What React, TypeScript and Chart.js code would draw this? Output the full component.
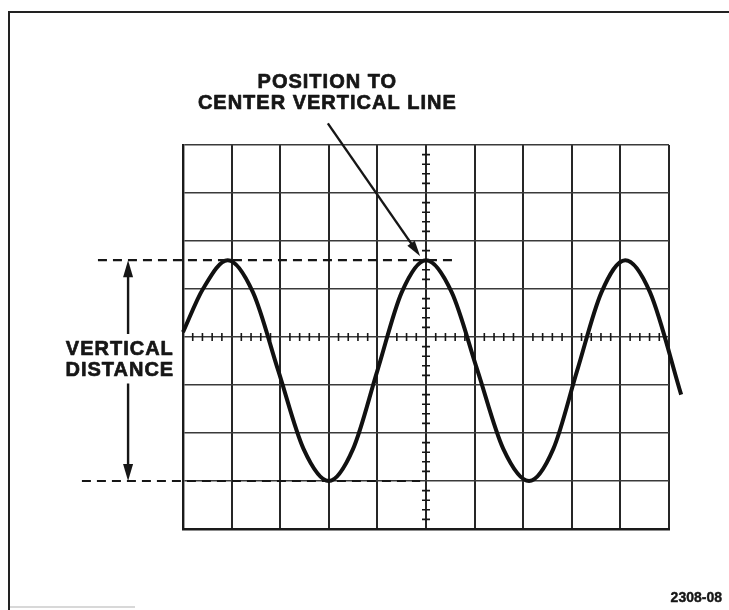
import React, { useEffect, useRef } from "react";
import { Chart, registerables } from "chart.js";

Chart.register(...registerables);

// Trace (x in horizontal divisions from the left edge, y in divisions from centre)
const TRACE_X = [0, 0.41, 0.92, 1.44, 1.96, 2.48, 3.0, 3.5, 4.0, 4.5, 5.0, 5.53, 6.06, 6.59, 7.12, 7.62, 8.11, 8.61, 9.1, 9.61, 10.25];
const TRACE_Y = [0.1, 1.0, 1.6, 0.93, -0.7, -2.33, -3.0, -2.33, -0.7, 0.93, 1.6, 0.93, -0.7, -2.33, -3.0, -2.33, -0.7, 0.93, 1.6, 0.93, -1.2];

// Graticule
const X_DIVS = [0, 10];
const Y_DIVS = [-4, 4];
const MINOR_STEP = 0.2;

// Reference levels (divisions)
const PEAK_LEVEL = 1.6;
const TROUGH_LEVEL = -3;

// Labels
const TITLE_LINES = ["POSITION TO", "CENTER VERTICAL LINE"];
const SIDE_LINES = ["VERTICAL", "DISTANCE"];
const FIG_ID = "2308-08";

const INK = "#161616";

function drawDashed(ctx: CanvasRenderingContext2D, x1: number, x2: number, y: number) {
  ctx.save();
  ctx.strokeStyle = INK;
  ctx.lineWidth = 2.2;
  ctx.setLineDash([9, 6]);
  ctx.beginPath();
  ctx.moveTo(x1, y);
  ctx.lineTo(x2, y);
  ctx.stroke();
  ctx.restore();
}

function arrowHead(ctx: CanvasRenderingContext2D, tipX: number, tipY: number, fromX: number, fromY: number, len: number, half: number) {
  const a = Math.atan2(tipY - fromY, tipX - fromX);
  const bx = tipX - Math.cos(a) * len;
  const by = tipY - Math.sin(a) * len;
  const nx = -Math.sin(a);
  const ny = Math.cos(a);
  ctx.beginPath();
  ctx.moveTo(tipX, tipY);
  ctx.lineTo(bx + nx * half, by + ny * half);
  ctx.lineTo(bx - nx * half, by - ny * half);
  ctx.closePath();
  ctx.fill();
}

function boldText(ctx: CanvasRenderingContext2D, s: string, x: number, y: number) {
  ctx.fillText(s, x, y);
  ctx.strokeText(s, x, y);
}

const annotationPlugin = {
  id: "scopeAnnotations",
  beforeDatasetsDraw(chart: any) {
    const { ctx, scales } = chart;
    const xs = scales.x;
    const ys = scales.y;
    const cx = xs.getPixelForValue(5);
    const cy = ys.getPixelForValue(0);
    ctx.save();
    ctx.strokeStyle = INK;
    ctx.lineWidth = 1.6;
    ctx.beginPath();
    for (let v = X_DIVS[0] + MINOR_STEP; v < X_DIVS[1] - 1e-6; v += MINOR_STEP) {
      if (Math.abs(v - Math.round(v)) < 1e-6) continue;
      const px = xs.getPixelForValue(v);
      ctx.moveTo(px, cy - 4);
      ctx.lineTo(px, cy + 4);
    }
    for (let v = Y_DIVS[0] + MINOR_STEP; v < Y_DIVS[1] - 1e-6; v += MINOR_STEP) {
      if (Math.abs(v - Math.round(v)) < 1e-6) continue;
      const py = ys.getPixelForValue(v);
      ctx.moveTo(cx - 4, py);
      ctx.lineTo(cx + 4, py);
    }
    ctx.stroke();
    ctx.restore();
  },
  afterDatasetsDraw(chart: any) {
    const { ctx, scales } = chart;
    const xs = scales.x;
    const ys = scales.y;
    const X = (v: number) => xs.getPixelForValue(v);
    const Y = (v: number) => ys.getPixelForValue(v);

    // frame of the figure
    ctx.save();
    ctx.strokeStyle = "#222";
    ctx.lineWidth = 2;
    ctx.beginPath();
    ctx.moveTo(9, 610);
    ctx.lineTo(9, 12);
    ctx.lineTo(729, 12);
    ctx.stroke();
    ctx.strokeStyle = "#d8d8d8";
    ctx.lineWidth = 2;
    ctx.beginPath();
    ctx.moveTo(10, 607);
    ctx.lineTo(135, 607);
    ctx.stroke();
    ctx.restore();

    // dashed reference lines
    drawDashed(ctx, X(-1.75), X(5.6), Y(PEAK_LEVEL));
    drawDashed(ctx, X(-2.08), X(4.88), Y(TROUGH_LEVEL));

    ctx.save();
    ctx.strokeStyle = INK;
    ctx.fillStyle = INK;
    ctx.lineWidth = 2.4;

    // vertical distance arrow
    const ax = X(-1.13);
    const topTip = Y(PEAK_LEVEL);
    const botTip = Y(TROUGH_LEVEL);
    ctx.beginPath();
    ctx.moveTo(ax, topTip + 10);
    ctx.lineTo(ax, Y(0.06));
    ctx.moveTo(ax, Y(-0.97));
    ctx.lineTo(ax, botTip - 10);
    ctx.stroke();
    arrowHead(ctx, ax, topTip, ax, topTip + 30, 17, 5);
    arrowHead(ctx, ax, botTip, ax, botTip - 30, 17, 5);

    // pointer arrow to centre line peak
    const p1x = X(2.98), p1y = Y(4.45);
    const p2x = X(4.88), p2y = Y(1.68);
    const ang = Math.atan2(p2y - p1y, p2x - p1x);
    ctx.beginPath();
    ctx.moveTo(p1x, p1y);
    ctx.lineTo(p2x - Math.cos(ang) * 10, p2y - Math.sin(ang) * 10);
    ctx.stroke();
    arrowHead(ctx, p2x, p2y, p1x, p1y, 16, 4.5);

    // texts
    ctx.textAlign = "center";
    ctx.textBaseline = "middle";
    ctx.lineWidth = 0.7;
    ctx.lineJoin = "round";
    ctx.font = "bold 20px 'Liberation Sans', Arial, sans-serif";
    (ctx as any).letterSpacing = "1px";
    boldText(ctx, TITLE_LINES[0], X(2.97), 82);
    boldText(ctx, TITLE_LINES[1], X(2.97), 103);
    boldText(ctx, SIDE_LINES[0], X(-1.3), 349);
    boldText(ctx, SIDE_LINES[1], X(-1.3), 370);
    (ctx as any).letterSpacing = "0px";
    ctx.textAlign = "right";
    ctx.lineWidth = 0.4;
    ctx.font = "bold 14px 'Liberation Sans', Arial, sans-serif";
    boldText(ctx, FIG_ID, 722, 598);
    ctx.restore();
  },
};

export default function App() {
  const canvasRef = useRef<HTMLCanvasElement | null>(null);

  useEffect(() => {
    if (!canvasRef.current) return;
    const chart = new Chart(canvasRef.current, {
      type: "line",
      data: {
        datasets: [
          {
            data: TRACE_X.map((x, i) => ({ x, y: TRACE_Y[i] })),
            borderColor: "#111",
            borderWidth: 4,
            pointRadius: 0,
            fill: false,
            cubicInterpolationMode: "monotone",
            clip: false as any,
          },
        ],
      },
      options: {
        animation: false,
        responsive: false,
        layout: { padding: { left: 183, right: 60, top: 145, bottom: 81 } },
        plugins: {
          legend: { display: false },
          tooltip: { enabled: false },
          title: { display: false },
        },
        scales: {
          x: {
            type: "linear",
            min: X_DIVS[0],
            max: X_DIVS[1],
            ticks: { display: false, stepSize: 1 },
            grid: { color: "#262626", lineWidth: 2, drawTicks: false },
            border: { display: true, color: "#1a1a1a", width: 2.4 },
          },
          y: {
            type: "linear",
            min: Y_DIVS[0],
            max: Y_DIVS[1],
            ticks: { display: false, stepSize: 1 },
            grid: { color: "#3a3a3a", lineWidth: 1.6, drawTicks: false },
            border: { display: true, color: "#1a1a1a", width: 2.4 },
          },
        },
      },
      plugins: [annotationPlugin],
    });
    return () => chart.destroy();
  }, []);

  return (
    <div style={{ position: "absolute", left: 0, top: 0, width: 729, height: 610, background: "#fff" }}>
      <canvas ref={canvasRef} width={729} height={610} style={{ display: "block" }} />
    </div>
  );
}
